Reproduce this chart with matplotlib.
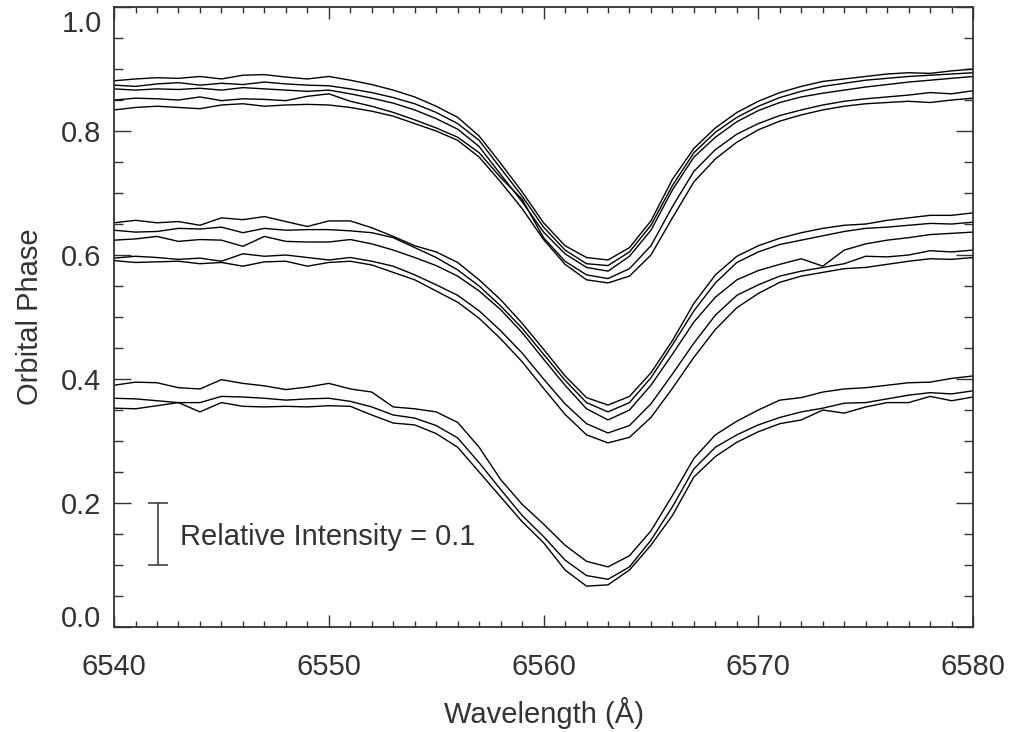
import numpy as np
import matplotlib
matplotlib.use('Agg')
import matplotlib.pyplot as plt
from matplotlib.ticker import MultipleLocator, FixedLocator, FuncFormatter

# wavelength grid (Angstrom), 1 A sampling
wavelength = np.arange(6540, 6581, 1.0)

# top set of spectra
top_1 = [.881, .884, .886, .885, .888, .884, .890, .891, .887, .884,
         .888, .882, .875, .866, .855, .840, .822, .792, .748, .702,
         .652, .615, .596, .592, .612, .655, .722, .772, .805, .830,
         .848, .862, .872, .880, .884, .888, .892, .894, .893, .897, .900]
top_2 = [.874, .872, .876, .878, .874, .877, .875, .879, .876, .874,
         .873, .868, .862, .854, .844, .830, .812, .785, .740, .695,
         .645, .608, .586, .583, .605, .648, .712, .765, .798, .822,
         .840, .854, .864, .872, .877, .882, .885, .888, .890, .892, .894]
top_3 = [.868, .866, .868, .867, .869, .866, .870, .868, .866, .864,
         .866, .860, .853, .845, .834, .820, .803, .775, .730, .686,
         .637, .602, .580, .574, .598, .640, .705, .758, .790, .815,
         .833, .846, .855, .861, .866, .871, .875, .879, .882, .885, .888]
top_4 = [.850, .853, .852, .850, .855, .849, .852, .851, .849, .856,
         .860, .848, .840, .830, .818, .805, .790, .765, .725, .690,
         .628, .590, .568, .562, .578, .615, .678, .735, .770, .795,
         .812, .825, .834, .842, .848, .852, .855, .858, .862, .860, .865]
top_5 = [.834, .838, .840, .838, .836, .842, .844, .840, .842, .843,
         .842, .838, .832, .824, .812, .800, .785, .758, .718, .675,
         .625, .585, .560, .555, .566, .600, .660, .718, .755, .782,
         .802, .816, .826, .834, .840, .844, .846, .848, .846, .850, .853]

# middle set
mid_1 = [.652, .656, .652, .654, .648, .660, .657, .662, .654, .646,
         .655, .655, .644, .630, .615, .605, .588, .560, .528, .490,
         .448, .405, .370, .358, .372, .410, .462, .522, .568, .598,
         .615, .627, .636, .643, .648, .650, .656, .660, .664, .664, .668]
mid_2 = [.640, .637, .638, .643, .642, .645, .636, .643, .640, .641,
         .641, .639, .636, .628, .612, .596, .576, .550, .518, .482,
         .440, .398, .362, .347, .362, .402, .455, .510, .555, .588,
         .605, .617, .624, .631, .638, .643, .645, .648, .651, .650, .653]
mid_3 = [.624, .626, .630, .622, .625, .624, .614, .630, .622, .621,
         .621, .625, .618, .608, .596, .583, .566, .542, .512, .475,
         .432, .390, .352, .334, .350, .390, .440, .492, .532, .560,
         .575, .585, .594, .582, .608, .618, .624, .628, .633, .635, .637]
mid_4 = [.595, .598, .596, .593, .595, .590, .602, .598, .600, .596,
         .592, .596, .590, .582, .568, .552, .535, .510, .478, .442,
         .400, .360, .328, .313, .325, .360, .408, .458, .503, .535,
         .552, .566, .574, .580, .586, .598, .597, .600, .607, .605, .608]
mid_5 = [.591, .588, .589, .590, .586, .588, .582, .589, .590, .582,
         .588, .590, .584, .572, .560, .542, .524, .498, .465, .428,
         .385, .343, .310, .297, .306, .338, .385, .435, .480, .515,
         .538, .556, .566, .572, .578, .580, .585, .590, .594, .593, .596]

# bottom set
low_1 = [.390, .395, .394, .386, .384, .399, .393, .389, .383, .387,
         .393, .384, .379, .355, .352, .347, .330, .290, .238, .198,
         .166, .132, .106, .097, .115, .155, .212, .272, .310, .332,
         .350, .366, .370, .379, .384, .386, .390, .394, .395, .401, .405]
low_2 = [.369, .368, .365, .362, .362, .372, .371, .369, .366, .368,
         .369, .364, .355, .342, .337, .325, .305, .265, .222, .180,
         .146, .108, .083, .077, .097, .140, .194, .255, .290, .310,
         .326, .338, .347, .353, .361, .362, .368, .374, .378, .376, .381]
low_3 = [.353, .352, .357, .362, .347, .362, .356, .355, .356, .355,
         .357, .356, .342, .329, .326, .312, .290, .250, .210, .170,
         .136, .092, .066, .068, .092, .132, .180, .242, .275, .298,
         .315, .328, .334, .350, .345, .355, .362, .362, .372, .365, .371]

spectra = [top_1, top_2, top_3, top_4, top_5,
           mid_1, mid_2, mid_3, mid_4, mid_5,
           low_1, low_2, low_3]

phase_ticks = [0.0, 0.2, 0.4, 0.6, 0.8, 1.0]

# scale bar: 0.1 in relative intensity
bar_x = 6542.05
bar_low, bar_high = 0.1, 0.2
bar_text = 'Relative Intensity = 0.1'

ink = '#333333'
fs = 21
plt.rcParams['font.family'] = ['Liberation Sans', 'DejaVu Sans']

fig = plt.figure(figsize=(10.11, 7.32), dpi=100)
ax = fig.add_axes([0.1128, 0.1434, 0.8497, 0.847])

for s in spectra:
    ax.plot(wavelength, s, color='black', lw=1.0)

ax.errorbar([bar_x], [(bar_low + bar_high) / 2], yerr=[(bar_high - bar_low) / 2],
            color=ink, lw=1.1, capsize=7.5, capthick=1.1)
ax.text(bar_x + 1.0, 0.132, bar_text, fontsize=fs, color=ink, va='baseline')

ax.set_xlim(6540, 6580)
ax.set_ylim(0.0, 1.0)
ax.xaxis.set_major_locator(MultipleLocator(10))
ax.xaxis.set_minor_locator(MultipleLocator(1))
ax.yaxis.set_major_locator(FixedLocator(phase_ticks))
ax.yaxis.set_minor_locator(MultipleLocator(0.05))
# end labels are drawn by hand, shifted inward like the original
ax.yaxis.set_major_formatter(FuncFormatter(
    lambda v, p: '' if v in (phase_ticks[0], phase_ticks[-1]) else '%.1f' % v))

ax.tick_params(axis='both', which='both', direction='in', top=True, right=True,
               color=ink, width=1.0, labelcolor=ink, labelsize=fs)
ax.tick_params(axis='x', which='major', length=8.6, pad=19)
ax.tick_params(axis='x', which='minor', length=4.3)
ax.tick_params(axis='y', which='major', length=12.3, pad=9)
ax.tick_params(axis='y', which='minor', length=6.3)
for sp in ax.spines.values():
    sp.set_color(ink)
    sp.set_linewidth(1.3)

for v, va, dy in [(phase_ticks[0], 'baseline', 0), (phase_ticks[-1], 'top', -2)]:
    ax.annotate('%.1f' % v, xy=(0, v), xycoords=('axes fraction', 'data'),
                xytext=(-9, dy), textcoords='offset points',
                ha='right', va=va, fontsize=fs, color=ink)

ax.set_xlabel('Wavelength (Å)', fontsize=fs, color=ink, labelpad=11)
ax.set_ylabel('Orbital Phase', fontsize=fs, color=ink, labelpad=12)

fig.savefig('out.png', dpi=100)
